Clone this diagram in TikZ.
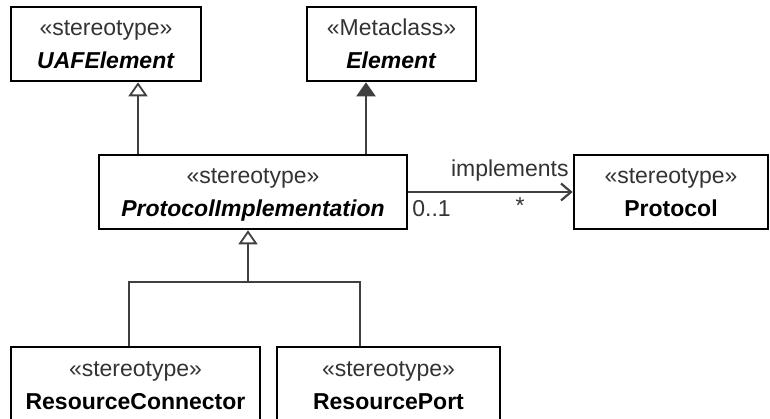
\documentclass[tikz,border=0pt]{standalone}
\usepackage{fontspec}
\setmainfont{Liberation Sans}
\usetikzlibrary{arrows.meta}
\newcommand{\stereo}[2]{{\color{black!80}\rule{0pt}{23pt}«#1»}\\#2\rule[-6pt]{0pt}{6pt}}
\begin{document}
\begin{tikzpicture}[x=1pt,y=-1pt,
  cls/.style={draw=black,line width=2.6pt,minimum height=74pt,inner sep=0pt,align=center,font=\fontsize{23}{33}\selectfont},
  link/.style={draw=black!75,line width=2.2pt},
  gen/.style={link,-{Triangle[open,length=14pt,width=19pt,line width=1.8pt]}},
  ext/.style={link,-{Triangle[length=14pt,width=19pt]}},
  assoc/.style={link,-{Straight Barb[length=10pt,width=17pt,line width=2.2pt]}},
  lbl/.style={font=\fontsize{23}{26}\selectfont,text=black!80,inner sep=3pt}]
\useasboundingbox (0,0) rectangle (770,419);
\node[cls,minimum width=190pt] (uaf) at (106,44) {\stereo{stereotype}{\textbf{\textit{UAFElement}}}};
\node[cls,minimum width=169pt] (elem) at (391.5,44) {\stereo{Metaclass}{\textbf{\textit{Element}}}};
\node[cls,minimum width=308pt] (pi) at (253,192) {\stereo{stereotype}{\textbf{\textit{ProtocolImplementation}}}};
\node[cls,minimum width=194pt] (proto) at (671,192) {\stereo{stereotype}{\textbf{Protocol}}};
\node[cls,minimum width=249pt] (rc) at (135.5,384) {\stereo{stereotype}{\textbf{ResourceConnector}}};
\node[cls,minimum width=223pt] (rp) at (388.5,384) {\stereo{stereotype}{\textbf{ResourcePort}}};
% generalisations
\draw[gen] ([xshift=32pt]uaf.south |- pi.north) -- ([xshift=32pt]uaf.south);
\draw[ext] ([xshift=-25.5pt]elem.south |- pi.north) -- ([xshift=-25.5pt]elem.south);
\coordinate (j) at (248,282); \coordinate (brL) at (129,282); \coordinate (brR) at (360,282);
\draw[link] (brL |- rc.north) -- (brL) -- (brR) -- (brR |- rp.north);
\draw[gen] (j) -- (j |- pi.south);
% association
\draw[assoc] (pi.east) -- node[lbl,pos=1,anchor=south east,yshift=7pt] {implements}
  node[lbl,pos=0,anchor=north west,yshift=-4pt] {0..1}
  node[lbl,pos=0.68,below,yshift=-2pt] {*} (proto.west);
\end{tikzpicture}
\end{document}
